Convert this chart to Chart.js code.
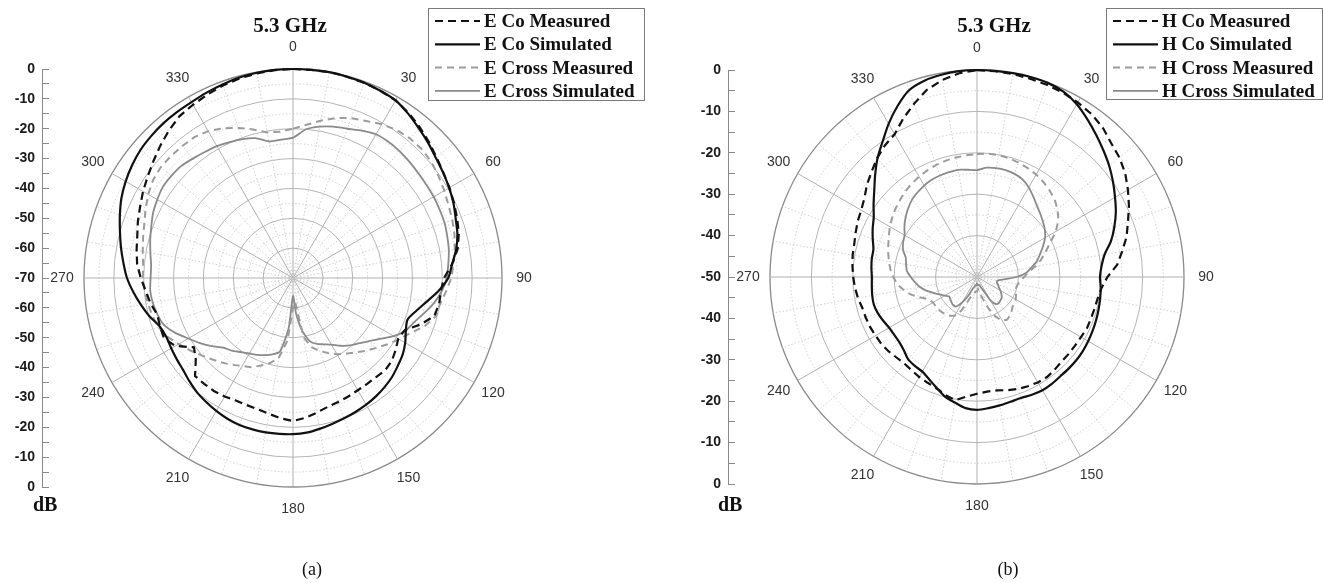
<!DOCTYPE html>
<html><head><meta charset="utf-8">
<script src="https://cdn.jsdelivr.net/npm/chart.js@4.4.1/dist/chart.umd.min.js"></script>
<style>
html,body{margin:0;padding:0;background:#fff;}
#wrap{position:relative;width:1323px;height:583px;overflow:hidden;background:#fff;}
canvas{position:absolute;left:0;top:0;}
</style></head><body>
<div id="wrap"><canvas id="ca" width="1323" height="583"></canvas><canvas id="cb" width="1323" height="583"></canvas></div>
<script>
// ---- categories: angle (deg), every 5 degrees ----
const angleCats = [0,5,10,15,20,25,30,35,40,45,50,55,60,65,70,75,80,85,90,95,100,105,110,115,120,125,130,135,140,145,150,155,160,165,170,175,180,185,190,195,200,205,210,215,220,225,230,235,240,245,250,255,260,265,270,275,280,285,290,295,300,305,310,315,320,325,330,335,340,345,350,355];
const angleLabels = ['0','30','60','90','120','150','180','210','240','270','300','330'];

// ---- (a) E-plane, dB ----
const eCoMeas = [0,0,0,-0.2,-0.4,-0.8,-1.3,-2.5,-4,-5.6,-7.2,-8.5,-9.5,-10.5,-11.5,-12.5,-14,-16.5,-19.4,-20.3,-20.3,-21,-24.5,-28.7,-29.3,-28,-26.8,-26.3,-26.7,-26.7,-26.6,-26.2,-25.8,-25.3,-24.2,-23,-22.1,-22.8,-23.8,-24.5,-24.7,-24.7,-24.2,-23.8,-23.7,-23.6,-27.5,-29.5,-24.5,-22.3,-22.6,-22.9,-21.5,-20.5,-19,-17.6,-16.8,-16,-14.7,-13.5,-12,-10.6,-9,-7.2,-5.4,-3.8,-3,-2.2,-1.4,-0.8,-0.4,-0.1];
const eCoSim = [0,0,0,-0.2,-0.4,-0.8,-1.3,-2.8,-4.5,-6,-7.5,-8.6,-9.6,-10.7,-12,-13,-14.5,-16.5,-18,-21,-24.5,-27.3,-29.2,-28.3,-26.6,-25.2,-24.2,-23.1,-22.3,-21.6,-21,-20.5,-20,-19.4,-18.7,-18,-17.7,-17.6,-17.5,-17.5,-17.6,-18,-18.6,-19.3,-20,-21,-22,-22.5,-22.9,-23.2,-22.5,-20.3,-18.3,-16.3,-14.4,-13,-11.5,-10,-8.3,-6.6,-5.3,-4.2,-3.3,-2.8,-2.4,-2.2,-2,-1.5,-1,-0.5,-0.2,0];
const eCrossMeas = [-20,-18.5,-16.5,-14.5,-13,-12,-10.5,-9.5,-9,-9,-9.5,-10.5,-11.5,-12.5,-13.2,-14,-15,-16,-17,-18.5,-20,-20.5,-23,-26.5,-29,-31.3,-33.6,-35.5,-37.5,-39,-40.5,-42.3,-44,-46,-50,-62,-60,-49,-43,-40.5,-38.8,-37,-36,-34.5,-33,-31.5,-29.8,-27.8,-25.8,-23.5,-22,-21.2,-20.7,-20,-19.7,-19.6,-18.9,-18,-17,-15.5,-14,-12.8,-12.2,-12.2,-12.3,-12.4,-13.2,-14.7,-16.5,-18.5,-20.5,-20.8];
const eCrossSim = [-23,-20,-18.5,-17.5,-16.8,-15.5,-14.4,-14.3,-14.5,-14.9,-15.3,-15.5,-15.6,-15.8,-16,-16.5,-17,-17.8,-18.5,-20,-22,-24.5,-26.8,-28.4,-31,-34.5,-37,-39,-40.5,-42.3,-44.2,-45.5,-46.5,-48,-52,-58,-64,-53,-45,-43.5,-42.5,-41.6,-40.8,-39.7,-38.2,-37,-34.5,-32,-29.5,-26.5,-24,-23,-22.3,-22,-22.3,-22.3,-21.5,-20.5,-19.5,-18.3,-17.5,-16.8,-16.8,-17,-17.8,-18.5,-19,-19.8,-20.5,-21.5,-23.5,-23.5];

// ---- (b) H-plane, dB ----
const hCoMeas = [0,-0.1,-0.2,-0.4,-0.6,-0.9,-1.3,-1.9,-2.8,-4.2,-5.1,-6.3,-7.9,-9.5,-11.2,-12.6,-14.4,-16,-18.5,-19.8,-20.4,-20.6,-20.7,-20.7,-21,-21.1,-21.1,-21.1,-20.8,-20.5,-20.6,-20.9,-21.2,-21.7,-22.2,-22.2,-21.8,-21,-19.8,-20.5,-21.4,-21.8,-22.1,-22.5,-22.7,-22.5,-22.1,-21.8,-21.7,-21.5,-21.4,-21.3,-20.8,-20.4,-20.1,-19.8,-19.5,-19.3,-18.8,-18.2,-17.7,-16.8,-15.3,-14,-12.5,-11.2,-10.2,-7.8,-5.5,-3.2,-1.7,-0.6];
const hCoSim = [0,0,0,0,-0.1,-0.6,-1.8,-3.5,-5.2,-6.8,-8.3,-9.9,-11.5,-13,-14.7,-16.5,-18.7,-19.8,-20.3,-20,-19.8,-19.6,-19.4,-19.2,-19,-18.8,-18.7,-18.7,-18.7,-18.5,-18.4,-18.6,-18.9,-18.8,-18.5,-18.2,-17.9,-18.2,-19.2,-20.1,-21.5,-22.7,-23.6,-23.8,-24.1,-25,-25.5,-25.6,-25.5,-25,-24.5,-24.2,-24.3,-24.5,-24.6,-24.4,-24.2,-24.1,-23.2,-22.2,-21.2,-19.5,-17.6,-15.2,-12.6,-10.2,-7.3,-4.5,-2,-0.9,-0.4,-0.1];
const hCrossMeas = [-20.3,-20.1,-20.1,-20.3,-20.6,-21,-21.4,-22,-22.7,-23.5,-24.6,-26,-28,-30.5,-32.4,-34,-35.8,-37.6,-38.6,-39.5,-40,-40.2,-40,-39.6,-39.2,-39,-38.8,-38.2,-37.7,-37.4,-37.8,-39.5,-42,-44.5,-46,-47,-46.5,-46.5,-46,-45.5,-44,-41,-39.2,-38.6,-38.2,-38,-37.8,-37.8,-37.7,-37.2,-35.5,-33.5,-32,-30.6,-29.8,-29,-28.4,-27.8,-27.2,-26.5,-25.7,-25,-24.3,-23.7,-23,-22.5,-22,-21.6,-21.2,-20.9,-20.7,-20.5];
const hCrossSim = [-24.2,-23.5,-23.3,-23.3,-23.5,-24,-25,-26.3,-27.5,-28.4,-29.2,-30,-31,-32.4,-33.8,-35,-36.6,-38,-40.5,-43.5,-45,-45,-44.6,-44.2,-43.5,-42.8,-42.2,-42,-41.8,-42,-43.5,-46.5,-47.5,-48,-48,-48,-48.5,-48,-48,-47.5,-47,-45,-43,-41.3,-41.1,-41.3,-41.6,-41.8,-41,-40,-38.8,-37.3,-36,-35,-34,-33,-32.6,-32.2,-31,-30.3,-29.8,-28.6,-27.5,-26.5,-25.6,-25,-24.5,-24.1,-23.9,-23.8,-23.7,-24];

const seriesNamesA = ['E Co Measured','E Co Simulated','E Cross Measured','E Cross Simulated'];
const seriesNamesB = ['H Co Measured','H Co Simulated','H Cross Measured','H Cross Simulated'];

const SANS = 'Arial, "Liberation Sans", sans-serif';
const SERIF = '"Times New Roman", "Liberation Serif", serif';

const styleList = [
  {borderColor:'#111111', borderWidth:2.2, borderDash:[8,5], tension:0},
  {borderColor:'#111111', borderWidth:2.2, borderDash:[], tension:0.25},
  {borderColor:'#9c9c9c', borderWidth:2, borderDash:[7,5], tension:0},
  {borderColor:'#8a8a8a', borderWidth:1.8, borderDash:[], tension:0.2}
];

const decor = {
  id: 'decor',
  afterDraw(chart, args, o) {
    const ctx = chart.ctx, r = chart.scales.r;
    ctx.save();
    // angle labels
    ctx.font = '14px ' + SANS; ctx.fillStyle = '#333'; ctx.textAlign = 'center'; ctx.textBaseline = 'middle';
    angleLabels.forEach(l => {
      const i = angleCats.indexOf(Number(l));
      const p = r.getPointPosition(i, r.drawingArea + 22);
      ctx.fillText(l, p.x, p.y);
    });
    // title
    ctx.font = 'bold 21px ' + SERIF; ctx.fillStyle = '#111'; ctx.textBaseline = 'alphabetic';
    ctx.fillText(o.title, o.titleX, 32);
    // dB unit
    ctx.font = 'bold 20px ' + SERIF; ctx.textAlign = 'left';
    ctx.fillText('dB', o.dbX, 511);
    // caption
    ctx.font = '18px ' + SERIF; ctx.textAlign = 'center';
    ctx.fillText(o.caption, o.capX, 575);
    // legend
    const L = o.legend;
    ctx.fillStyle = '#fff'; ctx.fillRect(L.x, L.y, L.w, L.h);
    ctx.strokeStyle = '#7a7a7a'; ctx.lineWidth = 1; ctx.setLineDash([]);
    ctx.strokeRect(L.x + 0.5, L.y + 0.5, L.w, L.h);
    ctx.font = 'bold 19px ' + SERIF; ctx.textAlign = 'left'; ctx.textBaseline = 'middle'; ctx.fillStyle = '#111';
    chart.data.datasets.forEach((ds, k) => {
      const y = L.y + 13 + k * 23.3;
      ctx.strokeStyle = ds.borderColor; ctx.lineWidth = ds.borderWidth; ctx.setLineDash(ds.borderDash);
      ctx.beginPath(); ctx.moveTo(L.x + 7, y); ctx.lineTo(L.x + 52, y); ctx.stroke();
      ctx.setLineDash([]);
      ctx.fillText(ds.label, L.x + 56, y + 1);
    });
    ctx.restore();
  }
};

function makeChart(id, names, data, cfg) {
  const rmin = cfg.min;
  return new Chart(document.getElementById(id), {
    type: 'radar',
    data: {
      labels: angleCats,
      datasets: data.map((d, k) => Object.assign({label: names[k], data: d, fill: false, pointRadius: 0, pointHitRadius: 0}, styleList[k]))
    },
    options: {
      responsive: false, animation: false, events: [],
      layout: {padding: cfg.padding},
      plugins: {legend: {display: false}, tooltip: {enabled: false}, title: {display: false},
        decor: {title: '5.3 GHz', titleX: cfg.titleX, dbX: cfg.dbX, caption: cfg.caption, capX: cfg.capX, legend: cfg.legend}},
      scales: {
        r: {
          min: rmin, max: 0, startAngle: 0,
          ticks: {display: false, stepSize: 5},
          pointLabels: {display: false},
          grid: {
            circular: true,
            color: c => c.tick.value === rmin ? 'rgba(0,0,0,0)' : (c.tick.value === 0 ? '#8a8a8a' : (c.tick.value % 10 === 0 ? '#b4b4b4' : '#d0d0d0')),
            lineWidth: c => c.tick.value === 0 ? 1.3 : 1
          },
          border: {dash: c => (c.tick && c.tick.value % 10 !== 0) ? [1.5, 2] : []},
          angleLines: {
            display: true,
            color: c => angleCats[c.index] % 30 === 0 ? '#b0b0b0' : '#cfcfcf',
            lineWidth: c => angleCats[c.index] % 10 === 0 ? 1 : 0,
            borderDash: c => angleCats[c.index] % 30 === 0 ? [] : [1.5, 2]
          }
        },
        y: {
          type: 'linear', position: 'left', min: rmin, max: -rmin,
          afterFit: s => { s.width = 42; },
          ticks: {stepSize: 5, autoSkip: false, padding: 14, color: '#1a1a1a',
            font: {family: SANS, size: 14, weight: 'bold'},
            callback: v => (v % 10 === 0) ? String(Math.abs(v) + rmin) : ''},
          grid: {drawOnChartArea: false, drawTicks: true, tickLength: -7, tickColor: '#888', tickWidth: 1},
          border: {display: true, color: '#8a8a8a', width: 1}
        }
      }
    },
    plugins: [decor]
  });
}

makeChart('ca', seriesNamesA, [eCoMeas, eCoSim, eCrossMeas, eCrossSim], {
  min: -70, padding: {left: 0, top: 69, right: 779, bottom: 96},
  titleX: 290, dbX: 33, caption: '(a)', capX: 312,
  legend: {x: 428, y: 8, w: 216, h: 92}
});
makeChart('cb', seriesNamesB, [hCoMeas, hCoSim, hCrossMeas, hCrossSim], {
  min: -50, padding: {left: 686, top: 70, right: 97, bottom: 99},
  titleX: 994, dbX: 718, caption: '(b)', capX: 1008,
  legend: {x: 1106, y: 8, w: 216, h: 91}
});
</script>
</body></html>
